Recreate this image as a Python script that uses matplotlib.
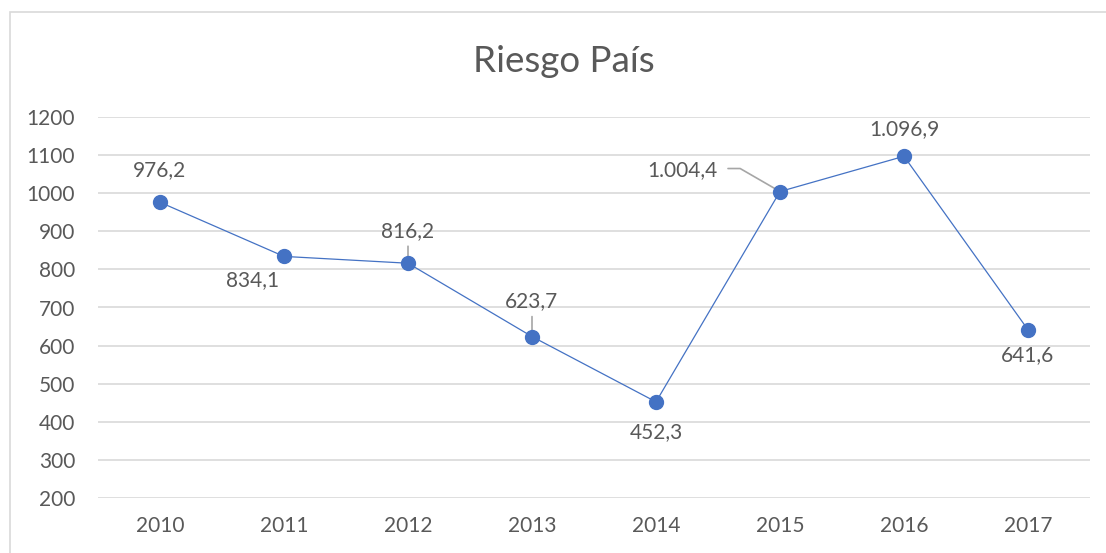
import matplotlib
matplotlib.use("Agg")
import matplotlib.pyplot as plt
from matplotlib.patches import Rectangle

years = ["2010", "2011", "2012", "2013", "2014", "2015", "2016", "2017"]
values = [976.2, 834.1, 816.2, 623.7, 452.3, 1004.4, 1096.9, 641.6]
labels = ["976,2", "834,1", "816,2", "623,7", "452,3", "1.004,4", "1.096,9", "641,6"]
yticks = [200, 300, 400, 500, 600, 700, 800, 900, 1000, 1100, 1200]

# label offsets in pixels (dx, dy), alignment, leader line
label_pos = [(0, 32, "center", None),
             (-31, -24, "center", None),
             (0, 32, "center", "v"),
             (0, 35, "center", "v"),
             (0, -30, "center", None),
             (-62, 21, "right", "bent"),
             (0, 27, "center", None),
             (0, -25, "center", None)]

plt.rcParams['font.family'] = ['Lato', 'DejaVu Sans']
W, H = 1106, 553
fig = plt.figure(figsize=(W / 100, H / 100), dpi=100)

# chart border
fig.patches.append(Rectangle((10 / W, -0.1), 1.2, 1 - 12 / H + 0.1, transform=fig.transFigure,
                             fill=False, edgecolor="#D9D9D9", linewidth=1.2))

ax = fig.add_axes([98 / W, 1 - 498 / H, (1090 - 98) / W, (498 - 117) / H])
x = list(range(len(years)))
ax.plot(x, values, color="#4472C4", linewidth=0.9, zorder=3)
ax.plot(x, values, linestyle="none", marker="o", markersize=10,
        color="#4472C4", zorder=4)

ax.set_xlim(-0.5, len(years) - 0.5)
ax.set_ylim(200, 1200)
ax.set_yticks(yticks)
ax.set_xticks(x)
ax.set_xticklabels(years)
ax.grid(axis="y", color="#D9D9D9", linewidth=1.2)
ax.set_axisbelow(True)
for s in ax.spines.values():
    s.set_visible(False)
ax.tick_params(length=0, labelsize=15, labelcolor="#595959")
ax.tick_params(axis="y", pad=16.5)
ax.tick_params(axis="x", pad=13)

for xi, v, lab, (dx, dy, ha, lead) in zip(x, values, labels, label_pos):
    ax.annotate(lab, (xi, v), xytext=(dx, dy), textcoords="offset pixels",
                ha=ha, va="center", fontsize=15, color="#595959", zorder=5)
    if lead == "v":
        ax.annotate("", (xi, v), xytext=(0, dy - 15), textcoords="offset pixels",
                    arrowprops=dict(arrowstyle="-", color="#A6A6A6", lw=1.2,
                                    shrinkA=0, shrinkB=0), zorder=2)
    elif lead == "bent":
        ax.annotate("", (xi, v), xytext=(dx + 10, dy + 2), textcoords="offset pixels",
                    arrowprops=dict(arrowstyle="-", color="#A6A6A6", lw=1.2,
                                    shrinkA=0, shrinkB=0,
                                    connectionstyle="angle,angleA=0,angleB=150,rad=0"),
                    zorder=2)

fig.text(564 / W, 1 - 62 / H, "Riesgo País", ha="center", va="center",
         fontsize=26.5, color="#595959")

fig.savefig("out.png", dpi=100)
